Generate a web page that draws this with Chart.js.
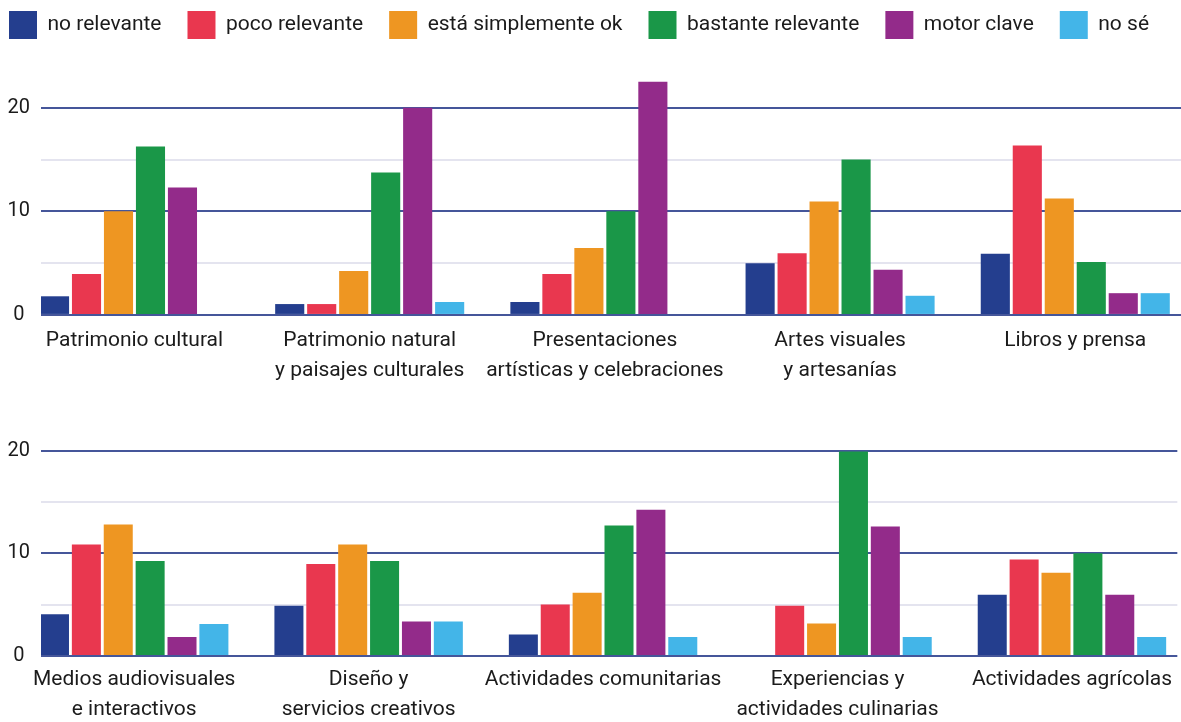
<!DOCTYPE html>
<html lang="es">
<head>
<meta charset="utf-8">
<title>Relevancia por ámbito cultural</title>
<script src="https://cdn.jsdelivr.net/npm/chart.js@4.4.1/dist/chart.umd.min.js"></script>
<style>
  html, body { margin: 0; padding: 0; background: #ffffff; overflow: hidden; }
  body { width: 1181px; height: 722px; position: relative; }
  .panel { position: absolute; left: 0; width: 1181px; }
  #panelTop { top: 0; height: 397px; }
  #panelBottom { top: 397px; height: 337px; }
</style>
</head>
<body>
<div class="panel" id="panelTop"><canvas id="chartTop"></canvas></div>
<div class="panel" id="panelBottom"><canvas id="chartBottom"></canvas></div>
<script>
// Response categories (legend order)
const seriesNames = ['no relevante', 'poco relevante', 'está simplemente ok', 'bastante relevante', 'motor clave', 'no sé'];
const seriesColors = ['#243e8e', '#e9374f', '#ee9622', '#1a9748', '#932b8a', '#43b5e8'];

// Upper panel: cultural domains
const categoriesTop = [
  ['Patrimonio cultural'],
  ['Patrimonio natural', 'y paisajes culturales'],
  ['Presentaciones', 'artísticas y celebraciones'],
  ['Artes visuales', 'y artesanías'],
  ['Libros y prensa']
];
const noRelevanteTop     = [1.8, 1.05, 1.25, 5.0, 5.9];
const pocoRelevanteTop   = [3.95, 1.05, 3.95, 5.95, 16.35];
const simplementeOkTop   = [10.0, 4.25, 6.45, 10.95, 11.25];
const bastanteTop        = [16.25, 13.75, 10.0, 15.0, 5.1];
const motorClaveTop      = [12.3, 20.0, 22.5, 4.35, 2.1];
const noSeTop            = [0, 1.25, 0, 1.85, 2.1];

// Lower panel: cultural domains
const categoriesBottom = [
  ['Medios audiovisuales', 'e interactivos'],
  ['Diseño y', 'servicios creativos'],
  ['Actividades comunitarias'],
  ['Experiencias y', 'actividades culinarias'],
  ['Actividades agrícolas']
];
const noRelevanteBottom   = [4.05, 4.9, 2.1, 0, 5.95];
const pocoRelevanteBottom = [10.85, 8.95, 5.0, 4.9, 9.4];
const simplementeOkBottom = [12.8, 10.85, 6.15, 3.15, 8.1];
const bastanteBottom      = [9.25, 9.25, 12.7, 19.9, 10.0];
const motorClaveBottom    = [1.85, 3.35, 14.25, 12.6, 5.95];
const noSeBottom          = [3.1, 3.35, 1.85, 1.85, 1.85];

// Value axis ticks
const yTickValues = [0, 5, 10, 15, 20];
const yLabelledTicks = [0, 10, 20];

const FONT = 'Roboto, "Noto Sans", sans-serif';
const TEXT = '#1b1b1b';

function buildDatasets(seriesList) {
  return seriesList.map((values, s) => ({
    label: seriesNames[s],
    data: values.map((v, i) => ({ x: i, y: v })),
    backgroundColor: seriesColors[s],
    borderWidth: 0,
    categoryPercentage: 0.816,
    barPercentage: 0.91
  }));
}

function makeOptions(categories, yMax, showLegend, tickPad) {
  return {
    responsive: true,
    maintainAspectRatio: false,
    animation: false,
    devicePixelRatio: 1,
    layout: { padding: { left: -17, right: 0, top: showLegend ? -15 : 20, bottom: 0 } },
    plugins: {
      legend: {
        display: showLegend,
        position: 'top',
        align: 'start',
        labels: {
          boxWidth: 28,
          boxHeight: 28,
          padding: 26,
          color: TEXT,
          font: { family: FONT, size: 21 }
        }
      },
      tooltip: { enabled: false }
    },
    scales: {
      x: {
        type: 'linear',
        offset: false,
        bounds: 'data',
        min: -0.3975,
        max: 4.4495,
        grid: { display: false, drawTicks: false },
        border: { display: false },
        afterBuildTicks: (scale) => {
          scale.ticks = categories.map((_, i) => ({ value: i }));
        },
        ticks: {
          autoSkip: false,
          maxRotation: 0,
          minRotation: 0,
          padding: tickPad,
          color: TEXT,
          font: { family: FONT, size: 21, lineHeight: 1.43 },
          callback: (value) => categories[value]
        }
      },
      y: {
        min: 0,
        max: yMax,
        afterBuildTicks: (scale) => {
          scale.ticks = yTickValues.map(v => ({ value: v }));
        },
        afterFit: (scale) => { scale.width = 58; },
        grid: {
          drawTicks: false,
          lineWidth: 2,
          color: (ctx) => (ctx.tick && ctx.tick.value % 10 === 0) ? '#45569a' : '#e4e4ef'
        },
        border: { display: false },
        ticks: {
          padding: 11,
          crossAlign: 'center',
          color: TEXT,
          font: { family: FONT, size: 20 },
          callback: (value) => yLabelledTicks.includes(value) ? String(value) : ''
        }
      }
    }
  };
}

new Chart(document.getElementById('chartTop'), {
  type: 'bar',
  data: {
    datasets: buildDatasets([noRelevanteTop, pocoRelevanteTop, simplementeOkTop, bastanteTop, motorClaveTop, noSeTop])
  },
  options: makeOptions(categoriesTop, 25.67, true, 11)
});

new Chart(document.getElementById('chartBottom'), {
  type: 'bar',
  data: {
    datasets: buildDatasets([noRelevanteBottom, pocoRelevanteBottom, simplementeOkBottom, bastanteBottom, motorClaveBottom, noSeBottom])
  },
  options: makeOptions(categoriesBottom, 22.98, false, 9)
});
</script>
</body>
</html>
